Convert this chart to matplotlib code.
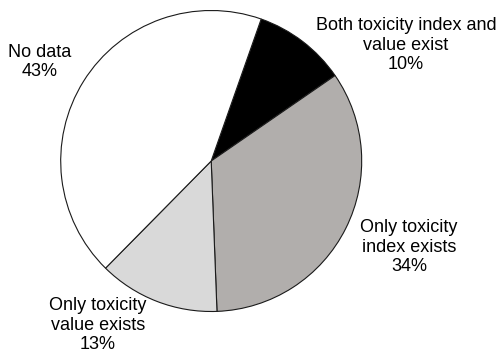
import matplotlib
matplotlib.use("Agg")
import matplotlib.pyplot as plt

plt.rcParams['font.family'] = ['Liberation Sans', 'DejaVu Sans']

labels = ["Both toxicity index and\nvalue exist", "Only toxicity\nindex exists",
          "Only toxicity\nvalue exists", "No data"]
values = [10, 34, 13, 43]
colors = ["#000000", "#b1aeac", "#d9d9d9", "#ffffff"]
# label centre positions in pixels (x, y from top)
label_pos = [(406, 45), (409, 247), (98, 325), (39.5, 62)]

W, H = 497, 353
fig = plt.figure(figsize=(W / 100, H / 100), dpi=100)
ax = fig.add_axes([0, 0, 1, 1])
ax.pie(values, colors=colors, startangle=70.6, counterclock=False,
       center=(211.2, H - 161), radius=150.5,
       wedgeprops=dict(edgecolor="#1a1a1a", linewidth=0.8))
ax.set_xlim(0, W)
ax.set_ylim(0, H)
ax.set_aspect('equal')
ax.axis('off')

for lab, v, (x, y) in zip(labels, values, label_pos):
    ax.text(x, H - y, f"{lab}\n{v}%", ha='center', va='center',
            fontsize=13, linespacing=1.2, color='black')

fig.savefig("out.png", dpi=100)
